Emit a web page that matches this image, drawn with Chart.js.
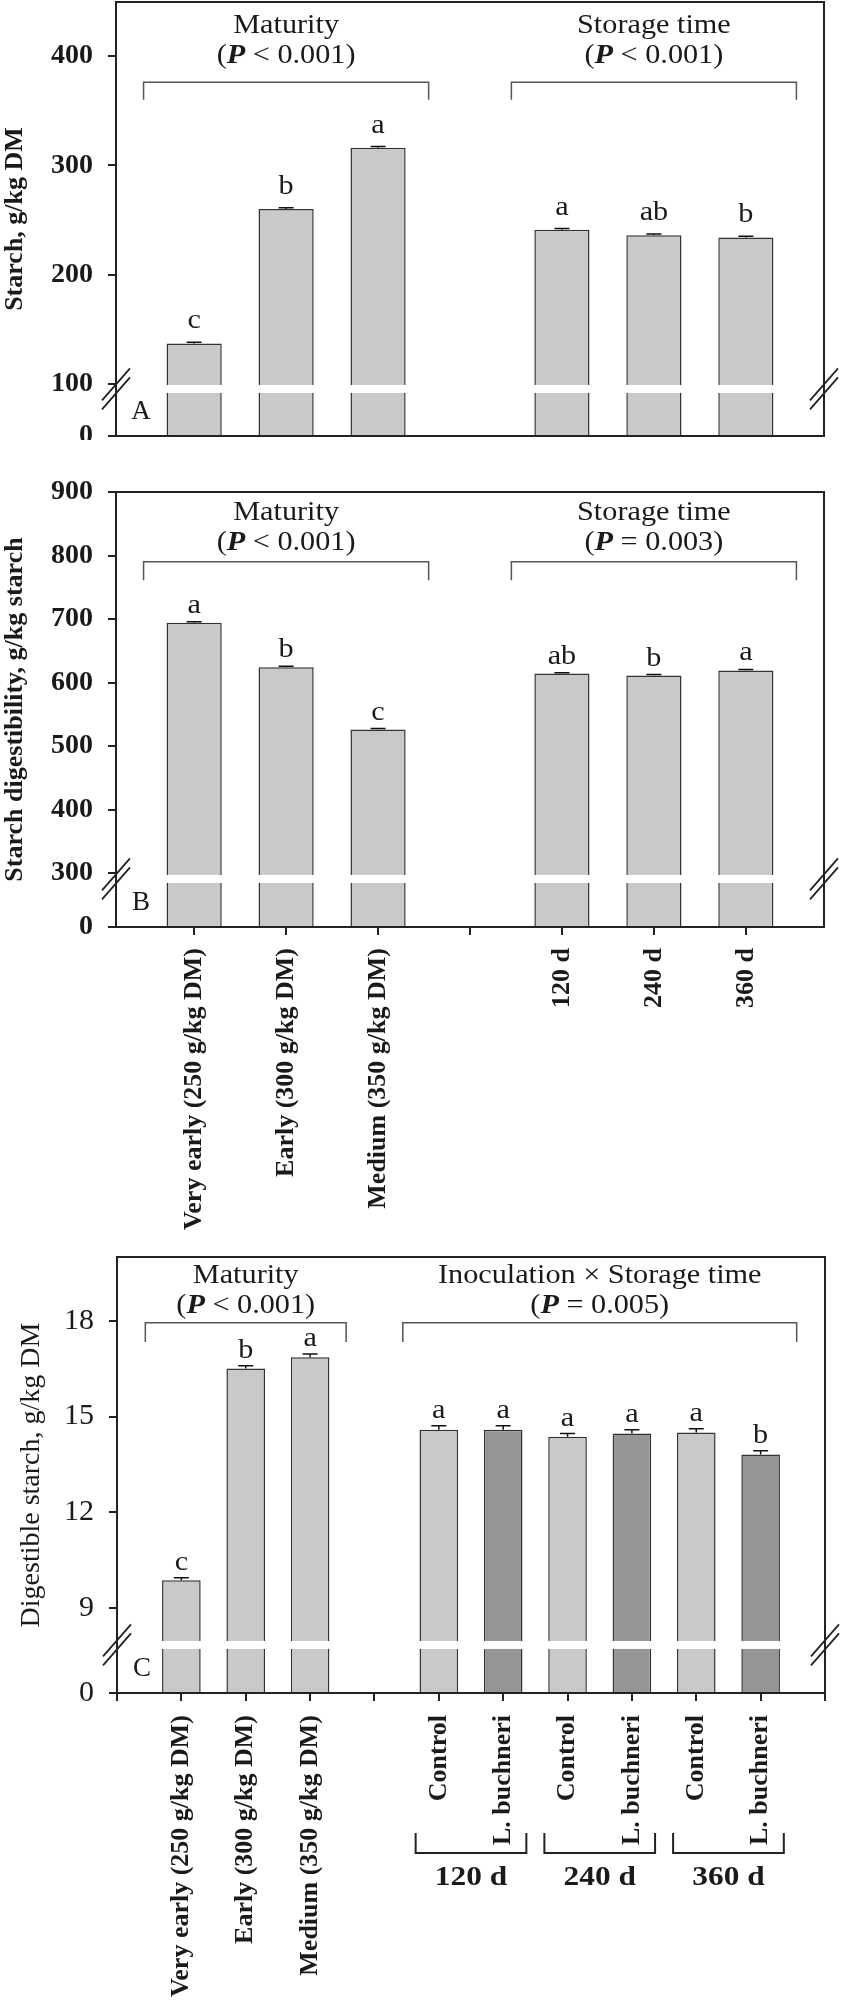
<!DOCTYPE html>
<html>
<head>
<meta charset="utf-8">
<script src="https://cdn.jsdelivr.net/npm/chart.js@4.4.0/dist/chart.umd.min.js"></script>
<style>
    body { margin: 0; background: #fff; width: 842px; height: 2004px; position: relative; overflow: hidden; }
    canvas { position: absolute; left: 0; }
</style>
</head>
<body>
<canvas id="chartA" width="842" height="440" style="top:0px"></canvas>
<canvas id="chartB" width="842" height="790" style="top:460px"></canvas>
<canvas id="chartC" width="842" height="754" style="top:1250px"></canvas>
<script>
// Category labels
const maturityLabels = ['Very early (250 g/kg DM)', 'Early (300 g/kg DM)', 'Medium (350 g/kg DM)'];
const storageLabels = ['120 d', '240 d', '360 d'];
const inoculationLabels = ['Control', 'L. buchneri'];

// Panel A - starch, g/kg DM
const starchMaturity = [137, 260, 316];
const starchMaturitySe = [1.2, 1.2, 1.2];
const starchMaturitySig = ['c', 'b', 'a'];
const starchStorage = [241, 236, 234];
const starchStorageSe = [1.2, 1.2, 1.2];
const starchStorageSig = ['a', 'ab', 'b'];
const starchTicks = [100, 200, 300, 400];

// Panel B - starch digestibility, g/kg starch
const digestMaturity = [694, 624, 526];
const digestMaturitySe = [1.5, 1.5, 1.5];
const digestMaturitySig = ['a', 'b', 'c'];
const digestStorage = [614, 611, 619];
const digestStorageSe = [1.5, 1.5, 1.5];
const digestStorageSig = ['ab', 'b', 'a'];
const digestTicks = [300, 400, 500, 600, 700, 800, 900];

// Panel C - digestible starch, g/kg DM
const dsMaturity = [9.87, 16.51, 16.86];
const dsMaturitySe = [0.08, 0.08, 0.1];
const dsMaturitySig = ['c', 'b', 'a'];
const dsControl = [14.59, 14.37, 14.50];
const dsControlSe = [0.12, 0.1, 0.12];
const dsControlSig = ['a', 'a', 'a'];
const dsBuchneri = [14.59, 14.47, 13.81];
const dsBuchneriSe = [0.12, 0.12, 0.12];
const dsBuchneriSig = ['a', 'a', 'b'];
const dsTicks = [9, 12, 15, 18];

// Fonts / colours
const SERIF = '"Liberation Serif", "Times New Roman", serif';
const SX = 1.12; // the original type is a bit wide
const ink = '#1a1a1a';
const lightBar = '#c8c9cb';
const darkBar = '#949597';

const fNorm = s => `${s}px ${SERIF}`;
const fBold = s => `bold ${s}px ${SERIF}`;
const fBoldIt = s => `italic bold ${s}px ${SERIF}`;

// draw a run of text segments centred on cx, slightly stretched
function drawRun(ctx, segs, cx, baseline) {
    let total = 0;
    const widths = segs.map(s => { ctx.font = s.f; const w = ctx.measureText(s.t).width; total += w; return w; });
    ctx.save();
    ctx.translate(cx, baseline);
    ctx.scale(SX, 1);
    ctx.textAlign = 'left';
    ctx.textBaseline = 'alphabetic';
    ctx.fillStyle = ink;
    let xx = -total / 2;
    segs.forEach((s, i) => { ctx.font = s.f; ctx.fillText(s.t, xx, 0); xx += widths[i]; });
    ctx.restore();
}

function headerLines(title, op, p) {
    return [
        [{ t: title, f: fNorm(27) }],
        [{ t: '(', f: fNorm(27) }, { t: 'P', f: fBoldIt(27) }, { t: ` ${op} ${p})`, f: fNorm(27) }]
    ];
}

function pointsFrom(xs, ys, ses, sigs, dark) {
    return ys.map((v, i) => ({ x: xs[i], y: v, se: ses[i], sig: sigs[i], dark: !!dark }));
}

// decorations are kept per canvas id, outside Chart.js option resolution
const decorById = {};

const panelDecor = {
    id: 'panelDecor',
    afterDatasetsDraw(chart) {
        const o = decorById[chart.canvas.id];
        if (!o) return;
        const { ctx, chartArea: ca, scales: { x, y } } = chart;
        ctx.save();

        // axis break band
        const bTop = y.getPixelForValue(o.band[1]);
        const bBot = y.getPixelForValue(o.band[0]);
        ctx.fillStyle = '#fff';
        ctx.fillRect(ca.left + 1, bTop, ca.width - 2, bBot - bTop);

        // error bars + letters
        const meta = chart.getDatasetMeta(0);
        o.points.forEach((p, i) => {
            const bar = meta.data[i];
            const yv = y.getPixelForValue(p.y);
            const ye = y.getPixelForValue(p.y + p.se);
            ctx.strokeStyle = '#111';
            ctx.lineWidth = 1.5;
            ctx.beginPath();
            ctx.moveTo(bar.x, yv); ctx.lineTo(bar.x, ye);
            ctx.moveTo(bar.x - 7.5, ye); ctx.lineTo(bar.x + 7.5, ye);
            ctx.stroke();
            drawRun(ctx, [{ t: p.sig, f: fNorm(27) }], bar.x, ye - o.sigGap);
        });

        // group brackets with headers
        const by = y.getPixelForValue(o.bracketY);
        const bd = y.getPixelForValue(o.bracketDrop);
        o.groups.forEach(g => {
            const x0 = x.getPixelForValue(g.from - o.bracketPad);
            const x1 = x.getPixelForValue(g.to + o.bracketPad);
            ctx.strokeStyle = '#555';
            ctx.lineWidth = 1.5;
            ctx.beginPath();
            ctx.moveTo(x0, bd); ctx.lineTo(x0, by); ctx.lineTo(x1, by); ctx.lineTo(x1, bd);
            ctx.stroke();
            g.lines.forEach((segs, k) => drawRun(ctx, segs, (x0 + x1) / 2, by - o.textOffsets[k]));
        });

        // frame
        ctx.strokeStyle = '#222';
        ctx.lineWidth = 2;
        ctx.strokeRect(ca.left, ca.top, ca.width, ca.height);

        // break marks on both axes
        const cy = (bTop + bBot) / 2;
        [ca.left, ca.right].forEach(cx => {
            ctx.strokeStyle = '#222';
            ctx.lineWidth = 1.8;
            ctx.beginPath();
            [-4.5, 4.5].forEach(d => {
                ctx.moveTo(cx - 14, cy + d + 16);
                ctx.lineTo(cx + 14, cy + d - 16);
            });
            ctx.stroke();
        });

        // panel letter
        ctx.font = fNorm(27);
        ctx.fillStyle = ink;
        ctx.textAlign = 'center';
        ctx.textBaseline = 'middle';
        ctx.fillText(o.letter, ca.left + 25, ca.bottom - 24);

        // storage-time groups under the axis labels (panel C)
        (o.dayGroups || []).forEach(g => {
            const x0 = x.getPixelForValue(g.from - 0.36);
            const x1 = x.getPixelForValue(g.to + 0.36);
            const t = ca.bottom + 140, b = ca.bottom + 160;
            ctx.strokeStyle = '#222';
            ctx.lineWidth = 2;
            ctx.beginPath();
            ctx.moveTo(x0, t); ctx.lineTo(x0, b); ctx.lineTo(x1, b); ctx.lineTo(x1, t);
            ctx.stroke();
            drawRun(ctx, [{ t: g.label, f: fBold(28) }], (x0 + x1) / 2, ca.bottom + 192);
        });

        ctx.restore();
    }
};

function makePanel(id, s) {
    decorById[id] = Object.assign({ points: s.points }, s.decor);
    const ctx = document.getElementById(id).getContext('2d');
    return new Chart(ctx, {
        type: 'bar',
        data: {
            datasets: [{
                data: s.points.map(p => ({ x: p.x, y: p.y })),
                backgroundColor: s.points.map(p => p.dark ? darkBar : lightBar),
                borderColor: '#333',
                borderWidth: 1.5,
                barPercentage: 0.6,
                categoryPercentage: 1
            }]
        },
        options: {
            responsive: false,
            animation: false,
            layout: { padding: { top: s.padTop, right: s.padRight, left: 0, bottom: 0 } },
            plugins: {
                legend: { display: false },
                tooltip: { enabled: false }
            },
            scales: {
                x: {
                    type: 'linear',
                    min: s.xMin,
                    max: s.xMax,
                    offset: false,
                    bounds: 'data',
                    afterBuildTicks: sc => { sc.ticks = s.xTicks.map(v => ({ value: v })); },
                    afterFit: sc => { sc.height = s.bottomH; sc.paddingLeft = 0; sc.paddingRight = 0; },
                    ticks: {
                        display: s.showLabels,
                        autoSkip: false,
                        maxRotation: 90,
                        minRotation: 90,
                        padding: s.labelPad,
                        font: { family: SERIF, size: 26, weight: 'bold' },
                        color: ink,
                        callback: v => s.xLabels[v] || ''
                    },
                    grid: {
                        display: s.showXTicks,
                        offset: false,
                        drawOnChartArea: false,
                        drawTicks: true,
                        tickLength: 8,
                        color: '#222',
                        lineWidth: 2
                    },
                    border: { display: false }
                },
                y: {
                    type: 'linear',
                    min: s.yMin,
                    max: s.yMax,
                    bounds: 'data',
                    beginAtZero: false,
                    afterBuildTicks: sc => { sc.ticks = [s.yMin, ...s.yTicks].map(v => ({ value: v })); },
                    afterFit: sc => { sc.width = s.leftW; sc.paddingTop = 0; sc.paddingBottom = 0; },
                    ticks: {
                        padding: 15,
                        font: s.yTickFont,
                        color: ink,
                        callback: v => v === s.yMin ? '0' : String(v)
                    },
                    grid: {
                        drawOnChartArea: false,
                        drawTicks: true,
                        tickLength: 8,
                        color: '#222',
                        lineWidth: 2
                    },
                    border: { display: false },
                    title: {
                        display: true,
                        text: s.yTitle,
                        font: s.yTitleFont,
                        color: ink,
                        padding: { top: s.yTitlePad, bottom: 0 }
                    }
                }
            }
        },
        plugins: [panelDecor]
    });
}

// x positions: maturity 0..2, gap at 3, storage 4..6 (panels A, B)
const posMat = [0, 1, 2];
const posSto = [4, 5, 6];
const labelsAB = {};
posMat.forEach((p, i) => { labelsAB[p] = maturityLabels[i]; });
posSto.forEach((p, i) => { labelsAB[p] = storageLabels[i]; });

// Panel A
makePanel('chartA', {
    points: [
        ...pointsFrom(posMat, starchMaturity, starchMaturitySe, starchMaturitySig),
        ...pointsFrom(posSto, starchStorage, starchStorageSe, starchStorageSig)
    ],
    xMin: -0.85, xMax: 6.85, xTicks: [0, 1, 2, 3, 4, 5, 6], xLabels: labelsAB,
    showLabels: false, showXTicks: false, labelPad: 13, bottomH: 4,
    yMin: 52.4, yMax: 449.4, yTicks: starchTicks,
    yTickFont: { family: SERIF, size: 28, weight: 'bold' },
    yTitle: 'Starch, g/kg DM',
    yTitleFont: { family: SERIF, size: 26, weight: 'bold' },
    yTitlePad: 0,
    leftW: 116, padTop: 2, padRight: 18,
    decor: {
        band: [91.8, 99.1],
        sigGap: 14,
        letter: 'A',
        bracketY: 376, bracketDrop: 360, bracketPad: 0.55, textOffsets: [49, 19],
        groups: [
            { from: 0, to: 2, lines: headerLines('Maturity', '<', '0.001') },
            { from: 4, to: 6, lines: headerLines('Storage time', '<', '0.001') }
        ]
    }
});

// Panel B
makePanel('chartB', {
    points: [
        ...pointsFrom(posMat, digestMaturity, digestMaturitySe, digestMaturitySig),
        ...pointsFrom(posSto, digestStorage, digestStorageSe, digestStorageSig)
    ],
    xMin: -0.85, xMax: 6.85, xTicks: [0, 1, 2, 3, 4, 5, 6], xLabels: labelsAB,
    showLabels: true, showXTicks: true, labelPad: 13, bottomH: 323,
    yMin: 215, yMax: 900, yTicks: digestTicks,
    yTickFont: { family: SERIF, size: 28, weight: 'bold' },
    yTitle: 'Starch digestibility, g/kg starch',
    yTitleFont: { family: SERIF, size: 26, weight: 'bold' },
    yTitlePad: 0,
    leftW: 116, padTop: 32, padRight: 18,
    decor: {
        band: [284.4, 297],
        sigGap: 9,
        letter: 'B',
        bracketY: 790, bracketDrop: 761, bracketPad: 0.55, textOffsets: [42, 12],
        groups: [
            { from: 0, to: 2, lines: headerLines('Maturity', '<', '0.001') },
            { from: 4, to: 6, lines: headerLines('Storage time', '=', '0.003') }
        ]
    }
});

// Panel C: maturity 1..3, gap at 4, control / L. buchneri pairs 5..10
const posMatC = [1, 2, 3];
const posCtrl = [5, 7, 9];
const posBuch = [6, 8, 10];
const labelsC = {};
posMatC.forEach((p, i) => { labelsC[p] = maturityLabels[i]; });
posCtrl.forEach(p => { labelsC[p] = inoculationLabels[0]; });
posBuch.forEach(p => { labelsC[p] = inoculationLabels[1]; });

const pointsC = [...pointsFrom(posMatC, dsMaturity, dsMaturitySe, dsMaturitySig)];
storageLabels.forEach((s, j) => {
    pointsC.push({ x: posCtrl[j], y: dsControl[j], se: dsControlSe[j], sig: dsControlSig[j], dark: false });
    pointsC.push({ x: posBuch[j], y: dsBuchneri[j], se: dsBuchneriSe[j], sig: dsBuchneriSig[j], dark: true });
});

makePanel('chartC', {
    points: pointsC,
    xMin: 0, xMax: 11, xTicks: [0, 1, 2, 3, 4, 5, 6, 7, 8, 9, 10, 11], xLabels: labelsC,
    showLabels: true, showXTicks: true, labelPad: 14, bottomH: 311,
    yMin: 6.34, yMax: 20, yTicks: dsTicks,
    yTickFont: { family: SERIF, size: 30 },
    yTitle: 'Digestible starch, g/kg DM',
    yTitleFont: { family: SERIF, size: 28 },
    yTitlePad: 15,
    leftW: 117, padTop: 7, padRight: 17,
    decor: {
        band: [7.72, 7.97],
        sigGap: 8,
        letter: 'C',
        bracketY: 17.94, bracketDrop: 17.34, bracketPad: 0.56, textOffsets: [40, 10],
        groups: [
            { from: 1, to: 3, lines: headerLines('Maturity', '<', '0.001') },
            { from: 5, to: 10, lines: headerLines('Inoculation \u00d7 Storage time', '=', '0.005') }
        ],
        dayGroups: storageLabels.map((l, j) => ({ from: posCtrl[j], to: posBuch[j], label: l }))
    }
});
</script>
</body>
</html>
